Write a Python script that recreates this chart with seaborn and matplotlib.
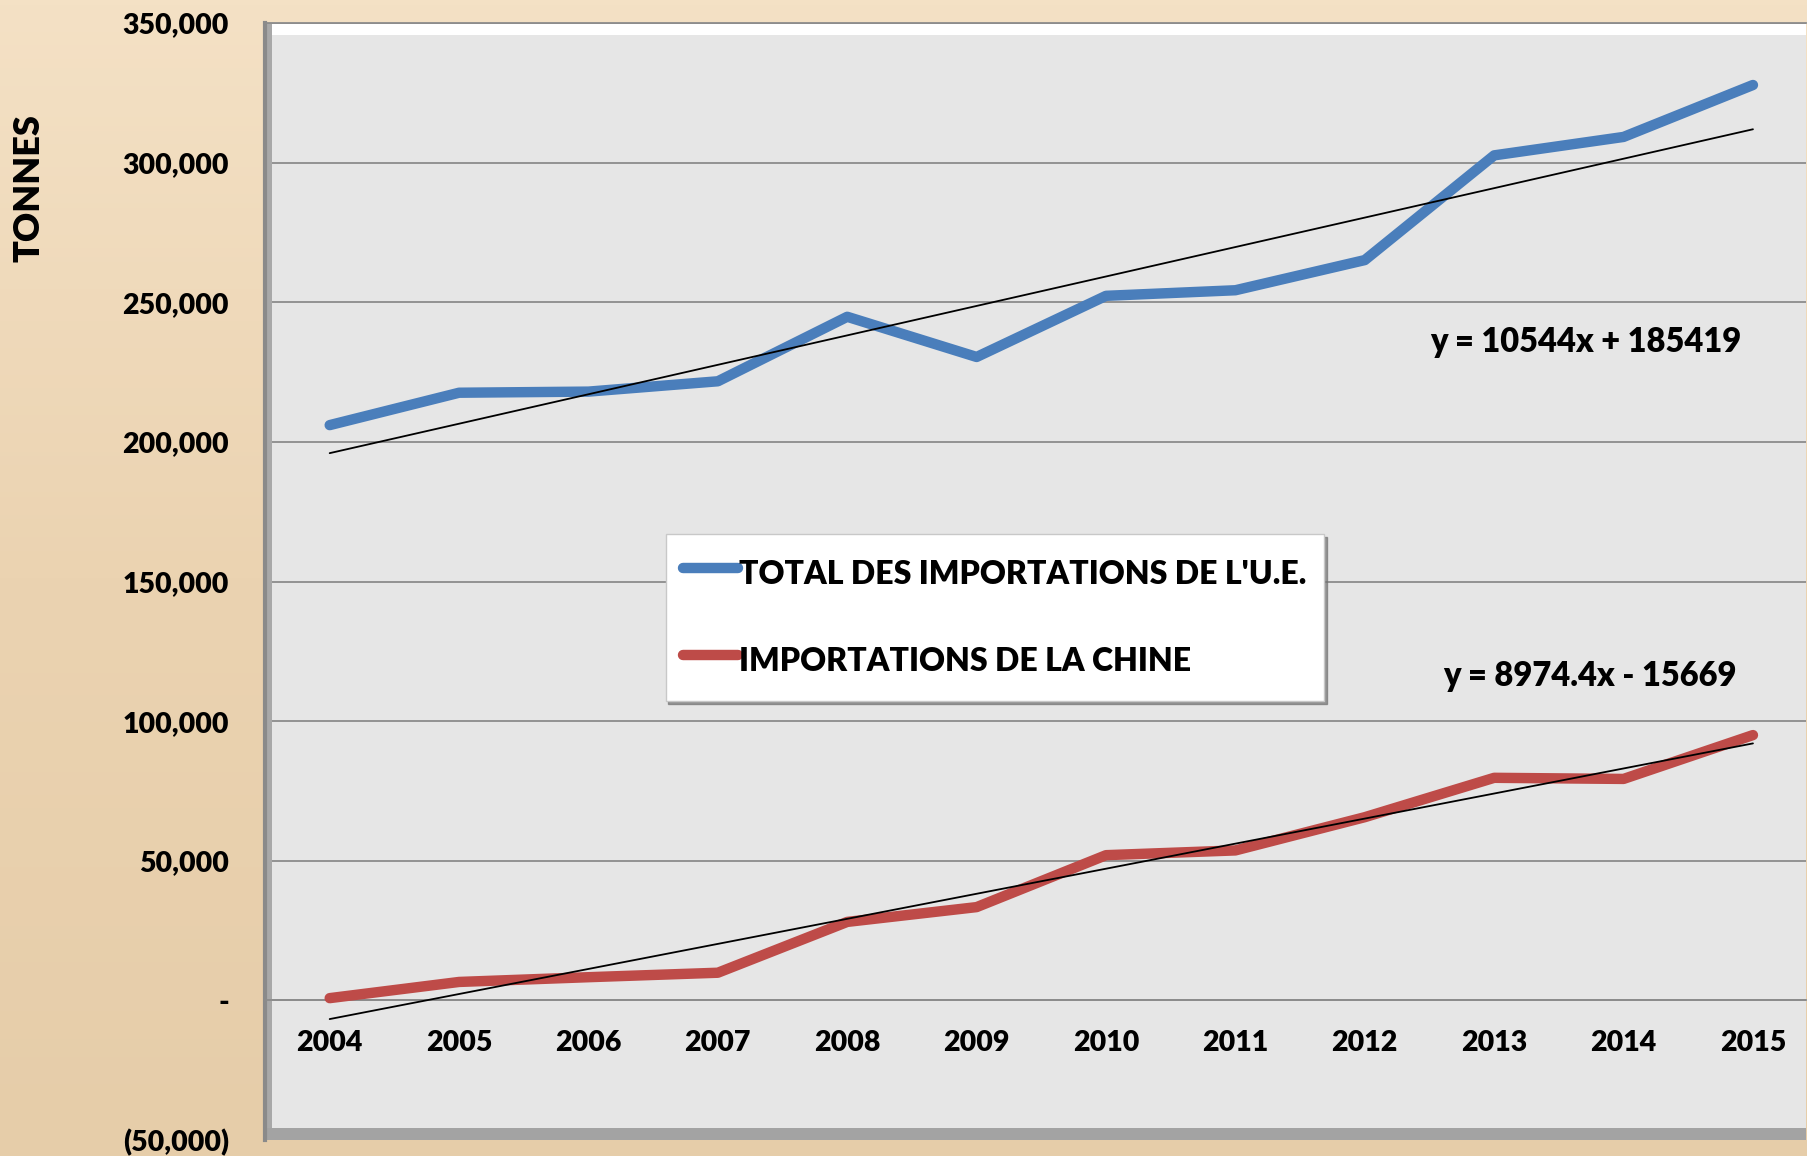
import numpy as np
import pandas as pd
import matplotlib
matplotlib.use("Agg")
import matplotlib.pyplot as plt
import seaborn as sns
from matplotlib.patches import Rectangle
from matplotlib.colors import LinearSegmentedColormap
from matplotlib.ticker import FuncFormatter, FixedLocator

# =======================
# DONNÉES
# =======================
annees = ["2004", "2005", "2006", "2007", "2008", "2009",
          "2010", "2011", "2012", "2013", "2014", "2015"]
total_ue = [206000, 217600, 218000, 221700, 244800, 230400,
            252300, 254300, 265100, 302600, 309200, 327800]
chine = [800, 6600, 8300, 9900, 28100, 33400,
         52000, 53700, 65600, 79700, 79300, 95000]

# tendances affichées sur le graphique (x = 1..12)
tend_ue = (10544, 185419)
tend_chine = (8974.4, -15669)
eq_ue = "y = 10544x + 185419"
eq_chine = "y = 8974.4x - 15669"

nom_ue = "TOTAL DES IMPORTATIONS DE L'U.E."
nom_chine = "IMPORTATIONS DE LA CHINE"

# =======================
# STYLE
# =======================
sns.set_style("white")
plt.rcParams["font.family"] = ["Lato", "DejaVu Sans"]
GRAS = "heavy"
plt.rcParams["font.weight"] = GRAS
plt.rcParams["text.color"] = "black"
plt.rcParams["xtick.color"] = "black"
plt.rcParams["ytick.color"] = "black"

bleu = "#4A7EBB"
rouge = "#BE4B48"

fig = plt.figure(figsize=(18.07, 11.56), dpi=100)
fig.patch.set_facecolor("#EFDABB")

# fond beige en dégradé
fond = fig.add_axes([0, 0, 1, 1], zorder=-10)
cmap_fond = LinearSegmentedColormap.from_list("fond", ["#F4E1C5", "#EBD3B1", "#E6CDA9"])
fond.imshow(np.linspace(0, 1, 256).reshape(-1, 1), aspect="auto", cmap=cmap_fond,
            extent=[0, 1, 0, 1], origin="upper")
fond.axis("off")

W, H = 1807, 1156
left, right, top, bottom = 265, 1806, 23, 1140
ax = fig.add_axes([left / W, 1 - bottom / H, (right - left) / W, (bottom - top) / H])
ax.set_facecolor("#E6E6E6")

x = np.arange(len(annees))
df = pd.DataFrame({"x": x, "ue": total_ue, "chine": chine})

# lignes principales
sns.lineplot(data=df, x="x", y="ue", color=bleu, linewidth=7.5, ax=ax,
             label=nom_ue, solid_capstyle="round", zorder=4)
sns.lineplot(data=df, x="x", y="chine", color=rouge, linewidth=7.5, ax=ax,
             label=nom_chine, solid_capstyle="round", zorder=4)

# courbes de tendance
xi = x + 1
ax.plot(x, tend_ue[0] * xi + tend_ue[1], color="black", lw=1.3, zorder=5)
ax.plot(x, tend_chine[0] * xi + tend_chine[1], color="black", lw=1.3, zorder=5)

ax.text(9.71, 235700, eq_ue, ha="center", va="center", fontsize=23.5, fontweight=GRAS)
ax.text(9.74, 116000, eq_chine, ha="center", va="center", fontsize=23.5, fontweight=GRAS)

# axes
ax.set_xlim(-0.5, 11.41)
ax.set_ylim(-50000, 350000)
ax.set_yticks(np.arange(-50000, 350001, 50000))
ax.yaxis.grid(True, color="#8C8C8C", lw=1.3)
ax.set_axisbelow(True)


def fmt(v, pos):
    if v == 0:
        return "-"
    if v < 0:
        return f"({abs(v):,.0f})"
    return f"{v:,.0f}"


ax.yaxis.set_major_formatter(FuncFormatter(fmt))
ax.tick_params(axis="y", direction="out", length=8, width=1.3, color="#8C8C8C",
               pad=18, labelsize=20.5, labelcolor="black")
ax.set_xticks(x)
ax.set_xticklabels(annees)
ax.xaxis.set_minor_locator(FixedLocator(x[:-1] + 0.5))
ax.tick_params(axis="x", which="major", length=0, pad=21, labelsize=20.5,
               labelcolor="black")
ax.tick_params(axis="x", which="minor", direction="out", length=8, width=1.3,
               color="#8C8C8C")
for lab in ax.get_xticklabels() + ax.get_yticklabels():
    lab.set_fontweight(GRAS)

ax.spines["bottom"].set_position(("data", 0))
ax.spines["bottom"].set_color("#8C8C8C")
ax.spines["bottom"].set_linewidth(1.3)
ax.spines["right"].set_visible(False)
ax.spines["top"].set_color("#8C8C8C")
ax.spines["top"].set_linewidth(1.3)
ax.spines["left"].set_color("#8A8A8A")
ax.spines["left"].set_linewidth(3)
ax.set_xlabel("")
ax.set_ylabel("")

# effet de relief du cadre
hpx = bottom - top
wpx = right - left
ax.add_patch(Rectangle((0, 1 - 12 / hpx), 1, 12 / hpx, transform=ax.transAxes,
                       color="white", zorder=0.5, lw=0))
ax.add_patch(Rectangle((0, 0), 7 / wpx, 1, transform=ax.transAxes,
                       color="#A8A8A8", zorder=0.6, lw=0))
ax.add_patch(Rectangle((0, 0), 1, 12 / hpx, transform=ax.transAxes,
                       color="#A3A3A3", zorder=0.6, lw=0))

# légende
leg = ax.legend(loc="upper left", bbox_to_anchor=(0.26, 0.5425), fontsize=23,
                frameon=True, fancybox=False, shadow={"color": "0.45", "alpha": 0.7},
                handlelength=1.7, handleheight=1.8, handletextpad=0.05,
                labelspacing=1.3, borderpad=0.55, borderaxespad=0)
leg.get_frame().set_facecolor("white")
leg.get_frame().set_edgecolor("#C8C8C8")
for t in leg.get_texts():
    t.set_fontweight(GRAS)
for l in leg.get_lines():
    l.set_linewidth(7.5)
    l.set_solid_capstyle("round")

fig.text(29 / W, 1 - 188 / H, "TONNES", rotation=90, ha="center", va="center",
         fontsize=26, fontweight=GRAS)

fig.savefig("out.png", dpi=100, facecolor=fig.get_facecolor())
